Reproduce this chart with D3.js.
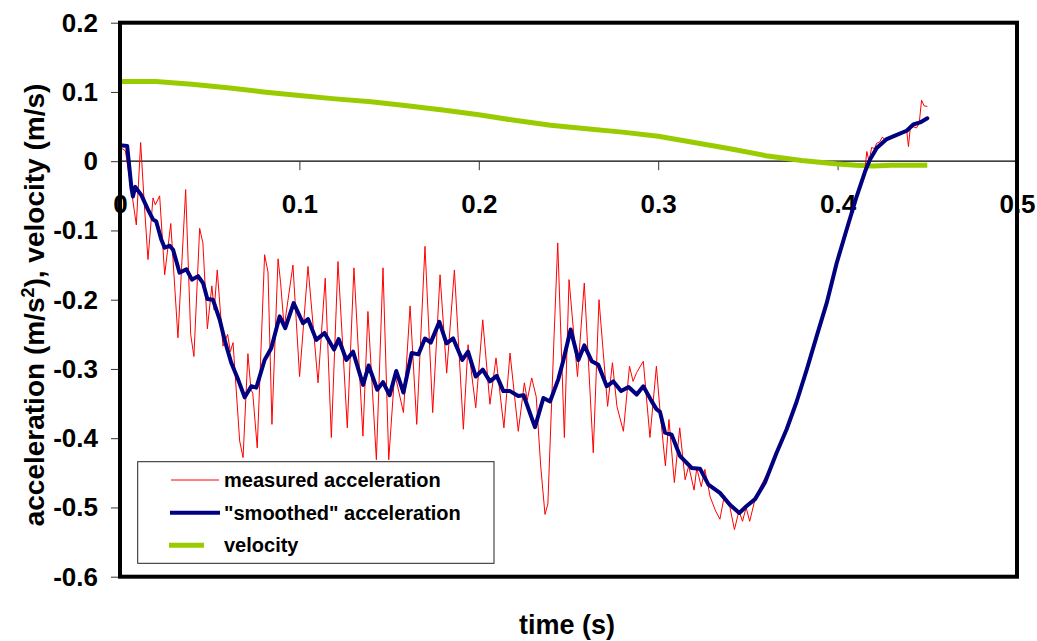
<!DOCTYPE html>
<html>
<head>
<meta charset="utf-8">
<script src="https://cdn.jsdelivr.net/npm/d3@7"></script>
<style>
  html, body { margin: 0; padding: 0; background: #fff; }
  svg { display: block; font-family: "Liberation Sans", Arial, sans-serif; }
</style>
</head>
<body>
<svg id="chart" width="1037" height="641"></svg>
<script>
// ---------- data ----------
const xTicks = [0, 0.1, 0.2, 0.3, 0.4, 0.5];
const xTickLabels = ["0", "0.1", "0.2", "0.3", "0.4", "0.5"];
const yTicks = [0.2, 0.1, 0, -0.1, -0.2, -0.3, -0.4, -0.5, -0.6];
const yTickLabels = ["0.2", "0.1", "0", "-0.1", "-0.2", "-0.3", "-0.4", "-0.5", "-0.6"];
const seriesNames = ["measured acceleration", "\"smoothed\" acceleration", "velocity"];

// measured acceleration (time s, m/s^2)
const measuredT = [0.000,0.003,0.0063,0.0091,0.0115,0.0135,0.0156,0.0184,0.0197,0.0221,0.0249,0.0283,0.0323,0.0366,0.0394,0.0412,0.0444,0.0462,0.0487,0.0512,0.0525,0.0542,0.0574,0.0600,0.0615,0.0630,0.0667,0.0686,0.0713,0.0730,0.0740,0.0765,0.0806,0.0825,0.0847,0.0881,0.0895,0.0915,0.0964,0.1001,0.1048,0.1104,0.1144,0.1178,0.1215,0.1267,0.1304,0.1354,0.1382,0.1429,0.1466,0.1498,0.1531,0.1580,0.1617,0.1654,0.1700,0.1743,0.1784,0.1821,0.1864,0.1914,0.1940,0.1983,0.2022,0.2062,0.2096,0.2140,0.2174,0.2220,0.2254,0.2270,0.2295,0.2320,0.2345,0.2369,0.2385,0.2420,0.2440,0.2477,0.2503,0.2550,0.2588,0.2638,0.2670,0.2718,0.2745,0.2770,0.2806,0.2840,0.2860,0.2880,0.2917,0.2954,0.2990,0.3010,0.3040,0.3060,0.3090,0.3120,0.3150,0.3170,0.3200,0.3215,0.3240,0.3260,0.3290,0.3320,0.3344,0.3365,0.3400,0.3425,0.3450,0.3470,0.3490,0.3510,0.3540,0.3570,0.3600,0.3630,0.3660,0.3690,0.3716,0.3740,0.3772,0.3800,0.3828,0.3855,0.3883,0.3910,0.3939,0.3970,0.3995,0.4025,0.4050,0.4080,0.4106,0.4130,0.4153,0.4163,0.4175,0.4190,0.4205,0.4218,0.4235,0.4250,0.4265,0.4290,0.4310,0.4330,0.4350,0.4370,0.4385,0.4395,0.4405,0.4420,0.4440,0.4455,0.4468,0.4482,0.4500];
const measuredV = [0.020,0.015,-0.041,-0.092,0.027,-0.060,-0.142,-0.053,-0.063,-0.050,-0.164,-0.090,-0.255,-0.041,-0.250,-0.282,-0.097,-0.118,-0.242,-0.180,-0.215,-0.157,-0.267,-0.250,-0.275,-0.262,-0.404,-0.428,-0.278,-0.330,-0.335,-0.414,-0.135,-0.160,-0.380,-0.141,-0.175,-0.240,-0.150,-0.311,-0.152,-0.320,-0.169,-0.399,-0.145,-0.385,-0.154,-0.397,-0.217,-0.431,-0.154,-0.431,-0.306,-0.363,-0.209,-0.380,-0.123,-0.363,-0.164,-0.306,-0.157,-0.387,-0.265,-0.356,-0.229,-0.351,-0.284,-0.385,-0.277,-0.390,-0.320,-0.345,-0.313,-0.340,-0.440,-0.510,-0.495,-0.250,-0.118,-0.399,-0.171,-0.311,-0.176,-0.421,-0.200,-0.354,-0.291,-0.354,-0.390,-0.296,-0.318,-0.305,-0.289,-0.399,-0.296,-0.360,-0.440,-0.373,-0.464,-0.385,-0.460,-0.440,-0.475,-0.443,-0.470,-0.445,-0.485,-0.505,-0.517,-0.488,-0.500,-0.532,-0.505,-0.520,-0.500,-0.520,-0.488,-0.470,-0.455,-0.440,-0.422,-0.405,-0.383,-0.370,-0.342,-0.325,-0.301,-0.280,-0.250,-0.232,-0.205,-0.175,-0.145,-0.125,-0.097,-0.072,-0.050,-0.030,-0.010,0.014,0.000,0.020,0.018,0.026,0.028,0.035,0.030,0.035,0.038,0.036,0.042,0.040,0.045,0.021,0.048,0.050,0.048,0.055,0.088,0.080,0.079];

// "smoothed" acceleration
const smoothT = [0.0000,0.0040,0.0063,0.0072,0.0085,0.0119,0.0156,0.0184,0.0202,0.0230,0.0249,0.0277,0.0296,0.0332,0.0370,0.0401,0.0435,0.0463,0.0487,0.0518,0.0556,0.0583,0.0620,0.0658,0.0695,0.0732,0.0760,0.0806,0.0843,0.0890,0.0921,0.0968,0.1020,0.1048,0.1094,0.1140,0.1193,0.1219,0.1262,0.1299,0.1355,0.1386,0.1434,0.1466,0.1503,0.1540,0.1580,0.1626,0.1663,0.1700,0.1732,0.1780,0.1820,0.1857,0.1908,0.1940,0.1983,0.2022,0.2062,0.2100,0.2137,0.2174,0.2220,0.2250,0.2313,0.2360,0.2397,0.2443,0.2470,0.2512,0.2555,0.2588,0.2630,0.2666,0.2713,0.2750,0.2793,0.2835,0.2880,0.2917,0.2960,0.2990,0.3010,0.3038,0.3075,0.3122,0.3187,0.3233,0.3280,0.3344,0.3400,0.3452,0.3493,0.3540,0.3595,0.3660,0.3716,0.3772,0.3828,0.3883,0.3939,0.3995,0.4050,0.4106,0.4153,0.4180,0.4218,0.4274,0.4330,0.4385,0.4422,0.4460,0.4500];
const smoothV = [0.023,0.022,-0.037,-0.051,-0.037,-0.049,-0.070,-0.084,-0.087,-0.113,-0.125,-0.122,-0.128,-0.161,-0.156,-0.171,-0.166,-0.176,-0.199,-0.200,-0.229,-0.258,-0.291,-0.315,-0.341,-0.325,-0.327,-0.287,-0.270,-0.224,-0.241,-0.205,-0.234,-0.228,-0.258,-0.248,-0.272,-0.257,-0.287,-0.275,-0.323,-0.295,-0.330,-0.319,-0.338,-0.303,-0.334,-0.277,-0.279,-0.256,-0.262,-0.232,-0.263,-0.256,-0.287,-0.275,-0.311,-0.301,-0.318,-0.310,-0.332,-0.332,-0.339,-0.338,-0.384,-0.342,-0.347,-0.315,-0.289,-0.243,-0.287,-0.266,-0.289,-0.294,-0.325,-0.318,-0.332,-0.326,-0.337,-0.325,-0.345,-0.358,-0.362,-0.392,-0.395,-0.426,-0.443,-0.444,-0.467,-0.479,-0.496,-0.508,-0.498,-0.488,-0.464,-0.421,-0.387,-0.347,-0.301,-0.253,-0.205,-0.147,-0.099,-0.051,-0.015,0.002,0.019,0.032,0.038,0.044,0.053,0.056,0.062];

// velocity (m/s)
const velocityT = [0.00,0.02,0.04,0.06,0.08,0.10,0.12,0.14,0.16,0.18,0.20,0.22,0.24,0.26,0.28,0.30,0.32,0.34,0.36,0.38,0.40,0.41,0.42,0.43,0.44,0.45];
const velocityV = [0.115,0.115,0.111,0.106,0.100,0.095,0.090,0.086,0.080,0.074,0.067,0.059,0.052,0.047,0.042,0.036,0.027,0.018,0.008,0.001,-0.004,-0.006,-0.007,-0.006,-0.006,-0.006];

// ---------- drawing ----------
const svg = d3.select("#chart");
const pLeft = 120, pRight = 1017, pTop = 22.7, pBottom = 576.7;
const x = d3.scaleLinear().domain([0, 0.5]).range([pLeft, pRight]);
const y = d3.scaleLinear().domain([-0.6, 0.2]).range([pBottom, pTop]);

const zip = (ts, vs) => ts.map((t, i) => [t, vs[i]]);
const line = d3.line().x(d => x(d[0])).y(d => y(d[1]));

// y axis ticks + labels
const yAxis = d3.axisLeft(y).tickValues(yTicks).tickSize(9).tickPadding(13)
  .tickFormat((d, i) => yTickLabels[i]);
const gy = svg.append("g").attr("transform", `translate(${pLeft},0)`).call(yAxis);
gy.select(".domain").remove();
gy.selectAll("line").attr("stroke", "#333").attr("stroke-width", 1);
gy.selectAll("text").attr("font-size", 26).attr("font-weight", "bold")
  .attr("fill", "#000").attr("font-family", "Liberation Sans, Arial, sans-serif");

// zero line
svg.append("line").attr("x1", pLeft).attr("x2", pRight)
  .attr("y1", y(0)).attr("y2", y(0)).attr("stroke", "#000").attr("stroke-width", 1.2);

// x axis on zero line
const xAxis = d3.axisBottom(x).tickValues(xTicks).tickSize(9).tickPadding(24)
  .tickFormat((d, i) => xTickLabels[i]);
const gx = svg.append("g").attr("transform", `translate(0,${y(0)})`).call(xAxis);
gx.select(".domain").remove();
gx.selectAll("line").attr("stroke", "#333").attr("stroke-width", 1);
gx.selectAll("text").attr("font-size", 26).attr("font-weight", "bold")
  .attr("fill", "#000").attr("font-family", "Liberation Sans, Arial, sans-serif");

// series
const colors = ["#FF0000", "#000080", "#99CC00"];
const widths = [1, 4, 5];
svg.append("path").datum(zip(velocityT, velocityV)).attr("d", line)
  .attr("fill", "none").attr("stroke", colors[2]).attr("stroke-width", widths[2]);
svg.append("path").datum(zip(measuredT, measuredV)).attr("d", line)
  .attr("fill", "none").attr("stroke", colors[0]).attr("stroke-width", widths[0])
  .attr("stroke-linejoin", "round");
svg.append("path").datum(zip(smoothT, smoothV)).attr("d", line)
  .attr("fill", "none").attr("stroke", colors[1]).attr("stroke-width", widths[1])
  .attr("stroke-linejoin", "round").attr("stroke-linecap", "round");

// plot border
svg.append("rect").attr("x", pLeft).attr("y", pTop)
  .attr("width", pRight - pLeft).attr("height", pBottom - pTop)
  .attr("fill", "none").attr("stroke", "#000").attr("stroke-width", 4);

// legend
const lg = svg.append("g");
lg.append("rect").attr("x", 137.7).attr("y", 461.7).attr("width", 356.3).attr("height", 101.6)
  .attr("fill", "#fff").attr("stroke", "#222").attr("stroke-width", 1);
const legendRows = [480, 512.7, 545.3];
const legendLineX = [[171, 219], [170, 220], [169, 204]];
seriesNames.forEach((name, i) => {
  lg.append("line").attr("x1", legendLineX[i][0]).attr("x2", legendLineX[i][1])
    .attr("y1", legendRows[i]).attr("y2", legendRows[i])
    .attr("stroke", colors[i]).attr("stroke-width", i === 2 ? 5 : widths[i]);
  lg.append("text").attr("x", 224).attr("y", legendRows[i] + 7)
    .attr("font-size", 20).attr("font-weight", "bold").attr("fill", "#000")
    .text(name);
});

// axis titles
svg.append("text").attr("x", 567).attr("y", 634).attr("text-anchor", "middle")
  .attr("font-size", 27).attr("font-weight", "bold").text("time (s)");

const yt = svg.append("text").attr("text-anchor", "middle")
  .attr("transform", "translate(44,305) rotate(-90)")
  .attr("font-size", 28).attr("font-weight", "bold");
yt.append("tspan").text("acceleration (m/s");
yt.append("tspan").attr("baseline-shift", "super").attr("font-size", 18).text("2");
yt.append("tspan").text("), velocity (m/s)");
</script>
</body>
</html>
